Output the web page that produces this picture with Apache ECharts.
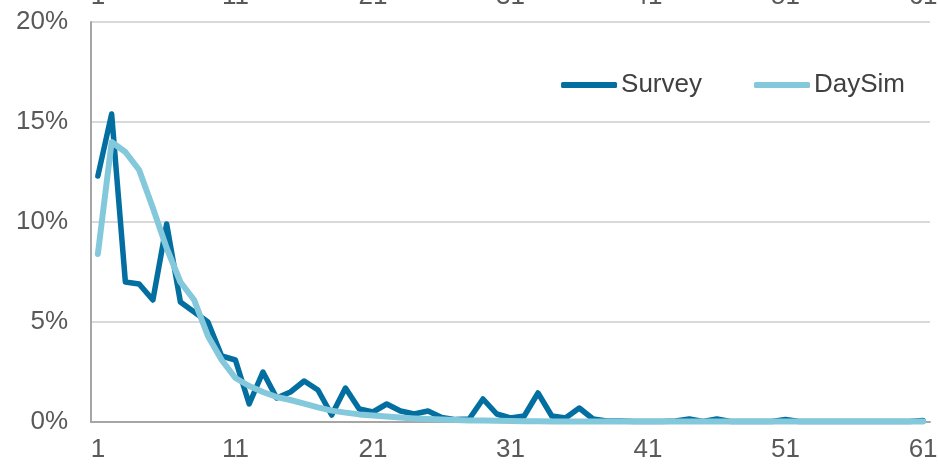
<!DOCTYPE html>
<html>
<head>
<meta charset="utf-8">
<title>Survey vs DaySim</title>
<script src="https://cdn.jsdelivr.net/npm/echarts@6/dist/echarts.min.js"></script>
<style>
  html, body { margin: 0; padding: 0; background: #fff; }
  #chart { width: 938px; height: 469px; }
</style>
</head>
<body>
<div id="chart"></div>
<script>
// categories 1..61
const categories = [];
for (let i = 1; i <= 61; i++) categories.push(String(i));

// share in percent
const survey = [
  12.3, 15.4, 7.0, 6.9, 6.1, 9.9, 6.0, 5.5, 5.0, 3.3,
  3.1, 0.9, 2.5, 1.2, 1.5, 2.05, 1.6, 0.35, 1.7, 0.65,
  0.5, 0.9, 0.55, 0.4, 0.55, 0.23, 0.12, 0.15, 1.15, 0.4,
  0.2, 0.3, 1.45, 0.3, 0.2, 0.7, 0.15, 0.05, 0.05, 0.03,
  0.03, 0.03, 0.05, 0.15, 0.03, 0.15, 0.03, 0.03, 0.03, 0.03,
  0.12, 0.03, 0.02, 0.02, 0.02, 0.02, 0.02, 0.02, 0.02, 0.02, 0.08
];
const daySim = [
  8.4, 14.0, 13.5, 12.6, 10.7, 8.7, 7.0, 6.1, 4.3, 3.1,
  2.2, 1.8, 1.5, 1.25, 1.1, 0.92, 0.73, 0.57, 0.47, 0.38,
  0.32, 0.27, 0.22, 0.18, 0.15, 0.12, 0.1, 0.08, 0.07, 0.06,
  0.05, 0.04, 0.04, 0.03, 0.03, 0.03, 0.02, 0.02, 0.02, 0.02,
  0.02, 0.02, 0.02, 0.02, 0.02, 0.02, 0.02, 0.02, 0.02, 0.02,
  0.02, 0.02, 0.02, 0.02, 0.02, 0.02, 0.02, 0.02, 0.02, 0.02, 0.02
];
const yTicks = { min: 0, max: 20, step: 5 };

const font = 'Arial, "Liberation Sans", sans-serif';
const labelColor = '#595959';

let myChart = echarts.init(document.getElementById('chart'));
let option = {
  animation: false,
  grid: { left: 91, right: 8, top: 22, bottom: 47, outerBoundsMode: 'none', containLabel: false },
  legend: {
    right: 28,
    top: 67,
    itemWidth: 56,
    itemHeight: 6,
    itemGap: 52,
    icon: 'roundRect',
    textStyle: { fontFamily: font, fontSize: 26, color: '#404040', padding: [0, 0, 0, -1] },
    data: ['Survey', 'DaySim']
  },
  xAxis: [
    {
      type: 'category',
      data: categories,
      boundaryGap: true,
      axisLine: { lineStyle: { color: '#a6a6a6', width: 2 } },
      axisTick: { show: false },
      axisLabel: { interval: 9, margin: 15, fontFamily: font, fontSize: 26, color: labelColor }
    },
    {
      // clipped duplicate labels along the top edge
      type: 'category',
      position: 'top',
      data: categories,
      boundaryGap: true,
      axisLine: { show: false },
      axisTick: { show: false },
      axisLabel: { interval: 9, margin: 12, fontFamily: font, fontSize: 26, color: labelColor }
    }
  ],
  yAxis: {
    type: 'value',
    min: yTicks.min,
    max: yTicks.max,
    interval: yTicks.step,
    axisLine: { show: true, lineStyle: { color: '#a6a6a6', width: 2 } },
    axisTick: { show: false },
    axisLabel: { formatter: '{value}%', margin: 23, fontFamily: font, fontSize: 26, color: labelColor },
    splitLine: { lineStyle: { color: '#d9d9d9', width: 2 } }
  },
  series: [
    {
      name: 'DaySim',
      type: 'line',
      data: daySim,
      z: 2,
      symbol: 'none',
      color: '#84c8dc',
      lineStyle: { width: 6, color: '#84c8dc', cap: 'round', join: 'round' }
    },
    {
      name: 'Survey',
      type: 'line',
      data: survey,
      z: 1,
      symbol: 'none',
      color: '#036ea0',
      lineStyle: { width: 5.5, color: '#036ea0', cap: 'round', join: 'round' }
    }
  ]
};
myChart.setOption(option, true);
</script>
</body>
</html>
